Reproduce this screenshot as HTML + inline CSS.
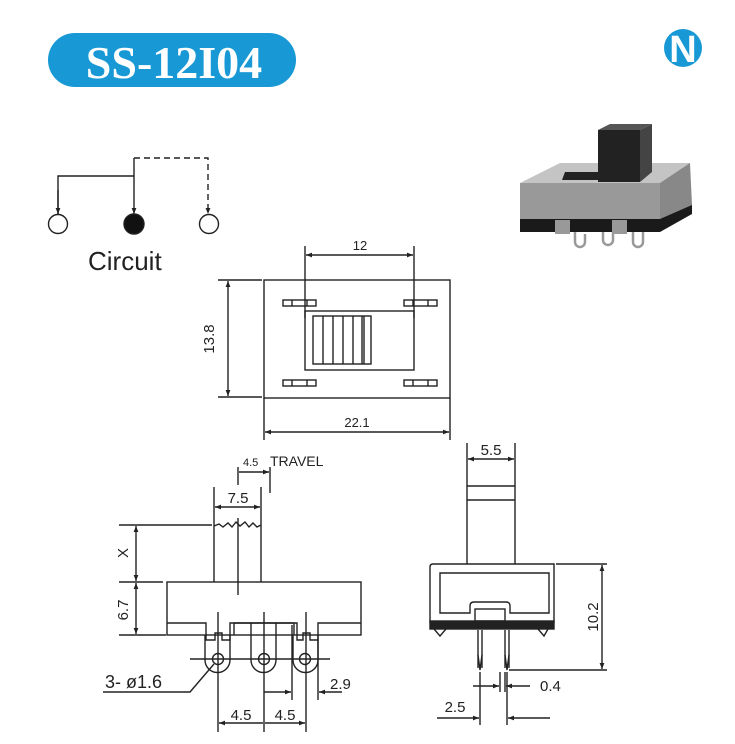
<!DOCTYPE html>
<html><head><meta charset="utf-8"><style>
html,body{margin:0;padding:0;background:#fff;}
svg{display:block;}
text{font-family:"Liberation Sans",sans-serif;fill:#222;}
</style></head><body>
<svg width="735" height="744" viewBox="0 0 735 744" xmlns="http://www.w3.org/2000/svg">
<defs>
<marker id="a" viewBox="0 0 10 10" refX="10" refY="5" markerWidth="8" markerHeight="6" orient="auto-start-reverse" markerUnits="userSpaceOnUse"><path d="M0,1 L10,5 L0,9 z" fill="#222"/></marker>
</defs>
<!-- title -->
<rect x="48" y="33" width="248" height="54" rx="27" fill="#1899d6"/>
<text x="174" y="78" text-anchor="middle" style="font-family:'Liberation Serif',serif;font-weight:bold;font-size:46px;fill:#fff">SS-12I04</text>
<!-- logo -->
<circle cx="683" cy="48" r="19" fill="#1899d6"/>
<text x="683" y="62" text-anchor="middle" style="font-family:'Liberation Sans',sans-serif;font-weight:bold;font-size:38px;fill:#fff">N</text>

<g stroke="#222" stroke-width="1.4" fill="none">
<!-- circuit -->
<polyline points="58,214 58,176 134,176"/>
<line x1="134" y1="158" x2="134" y2="214" marker-end="url(#a)"/>
<line x1="58" y1="190" x2="58" y2="214" marker-end="url(#a)"/>
<polyline points="134,158 208,158 208,214" stroke-dasharray="6,4" marker-end="url(#a)"/>
<circle cx="58" cy="224" r="9.5"/>
<circle cx="134" cy="224" r="10" fill="#111"/>
<circle cx="209" cy="224" r="9.5"/>

<!-- top view -->
<rect x="264" y="280" width="186" height="118"/>
<rect x="305" y="311" width="109" height="59"/>
<rect x="313" y="316" width="58" height="48"/>
<line x1="323" y1="316" x2="323" y2="364"/><line x1="333" y1="316" x2="333" y2="364"/><line x1="343" y1="316" x2="343" y2="364"/><line x1="353" y1="316" x2="353" y2="364"/><line x1="362" y1="316" x2="362" y2="364"/><line x1="364" y1="316" x2="364" y2="364"/>
<rect x="283" y="300" width="33" height="6"/><line x1="292" y1="300" x2="292" y2="306"/><line x1="307" y1="300" x2="307" y2="306"/>
<rect x="404" y="300" width="33" height="6"/><line x1="413" y1="300" x2="413" y2="306"/><line x1="428" y1="300" x2="428" y2="306"/>
<rect x="283" y="380" width="33" height="6"/><line x1="292" y1="380" x2="292" y2="386"/><line x1="307" y1="380" x2="307" y2="386"/>
<rect x="404" y="380" width="33" height="6"/><line x1="413" y1="380" x2="413" y2="386"/><line x1="428" y1="380" x2="428" y2="386"/>
<line x1="305" y1="246" x2="305" y2="318"/><line x1="414" y1="246" x2="414" y2="318"/>
<line x1="306" y1="255" x2="413" y2="255" marker-start="url(#a)" marker-end="url(#a)"/>
<line x1="218" y1="280" x2="262" y2="280"/><line x1="218" y1="397" x2="262" y2="397"/>
<line x1="228" y1="281" x2="228" y2="396" marker-start="url(#a)" marker-end="url(#a)"/>
<line x1="264" y1="398" x2="264" y2="440"/><line x1="450" y1="398" x2="450" y2="440"/>
<line x1="265" y1="432" x2="449" y2="432" marker-start="url(#a)" marker-end="url(#a)"/>

<!-- side view -->
<rect x="167" y="582" width="194" height="53"/>
<polyline points="167,623 206,623 206,640 215,640 215,633 222,633 222,640 230,640 230,623 234,623 234,623 293,623 293,623 234,623"/>
<polyline points="234,635 234,623 294,623 294,635"/>
<polyline points="294,623 297,623 297,640 303,640 303,633 310,633 310,640 318,640 318,623 361,623"/>
<path d="M205,635 V660 a12.5,12.5 0 0 0 25,0 V635"/>
<path d="M251,623 V660 a12.5,12.5 0 0 0 25,0 V623"/>
<path d="M293,635 V660 a12.5,12.5 0 0 0 25,0 V635"/>
<circle cx="218" cy="659" r="5.5"/><circle cx="264" cy="659" r="5.5"/><circle cx="305" cy="659" r="5.5"/>
<line x1="190" y1="659" x2="330" y2="659"/>
<line x1="218" y1="612" x2="218" y2="732"/><line x1="264" y1="612" x2="264" y2="732"/><line x1="306" y1="612" x2="306" y2="732"/>
<line x1="219" y1="723" x2="263" y2="723" marker-start="url(#a)"/>
<line x1="265" y1="723" x2="305" y2="723" marker-end="url(#a)"/>
<line x1="292" y1="625" x2="292" y2="700"/><line x1="318" y1="640" x2="318" y2="700"/>
<line x1="264" y1="692" x2="291" y2="692" marker-end="url(#a)"/>
<line x1="342" y1="692" x2="319" y2="692" marker-end="url(#a)"/>
<polyline points="103,692 190,692 214,664"/>
<!-- actuator -->
<line x1="214" y1="525" x2="214" y2="582"/><line x1="261" y1="525" x2="261" y2="582"/>
<polyline points="214,526 219,524 223,527 228,523 232,527 236,522 240,526 245,522 249,527 253,523 257,527 261,525"/>
<line x1="238" y1="518" x2="238" y2="595"/>
<line x1="214" y1="487" x2="214" y2="525"/><line x1="261" y1="487" x2="261" y2="525"/>
<line x1="215" y1="507" x2="260" y2="507" marker-start="url(#a)" marker-end="url(#a)"/>
<line x1="238" y1="467" x2="238" y2="485"/><line x1="270" y1="467" x2="270" y2="493"/>
<line x1="239" y1="472" x2="269" y2="472" marker-end="url(#a)"/>
<line x1="119" y1="525" x2="212" y2="525"/><line x1="119" y1="582" x2="163" y2="582"/><line x1="119" y1="635" x2="166" y2="635"/>
<line x1="136" y1="526" x2="136" y2="581" marker-start="url(#a)" marker-end="url(#a)"/>
<line x1="136" y1="583" x2="136" y2="634" marker-start="url(#a)" marker-end="url(#a)"/>

<!-- front view -->
<line x1="467" y1="443" x2="467" y2="564"/><line x1="515" y1="443" x2="515" y2="564"/>
<line x1="467" y1="486" x2="515" y2="486"/><line x1="467" y1="500" x2="515" y2="500"/>
<line x1="468" y1="459" x2="514" y2="459" marker-start="url(#a)" marker-end="url(#a)"/>
<path d="M430,567 q0,-3 3,-3 H554 V622 H430 Z"/>
<rect x="430" y="621" width="124" height="8" fill="#222"/>
<path d="M434,629 L440,636 L446,629 M548,629 L544,636 L538,629"/>
<path d="M440,573 H549 V613 H510 V606 q0,-4 -4,-4 H474 q-4,0 -4,4 V613 H440 Z"/>
<rect x="475" y="609" width="30" height="12"/>
<line x1="478" y1="630" x2="478" y2="668"/><line x1="482" y1="630" x2="482" y2="668"/>
<line x1="505" y1="630" x2="505" y2="668"/><line x1="509" y1="630" x2="509" y2="668"/>
<path d="M478,655 L480,670 L482,655 M505,655 L507,670 L509,655"/>
<line x1="556" y1="564" x2="607" y2="564"/><line x1="509" y1="670" x2="607" y2="670"/>
<line x1="602" y1="565" x2="602" y2="669" marker-start="url(#a)" marker-end="url(#a)"/>
<line x1="500" y1="672" x2="500" y2="692"/><line x1="505" y1="672" x2="505" y2="692"/>
<line x1="473" y1="686" x2="499" y2="686" marker-end="url(#a)"/>
<line x1="530" y1="686" x2="506" y2="686" marker-end="url(#a)"/>
<line x1="480" y1="672" x2="480" y2="725"/><line x1="507" y1="672" x2="507" y2="725"/>
<line x1="437" y1="718" x2="479" y2="718" marker-end="url(#a)"/>
<line x1="550" y1="718" x2="508" y2="718" marker-end="url(#a)"/>
</g>

<!-- photo -->
<g>
<polygon points="520,183 560,163 690,163 688,183" fill="#c4c4c4"/>
<polygon points="565,172 600,172 600,180 562,180" fill="#222"/>
<rect x="520" y="183" width="140" height="42" fill="#999"/>
<polygon points="660,183 690,163 692,205 660,225" fill="#888"/>
<polygon points="520,219 660,219 660,232 520,232" fill="#1a1a1a"/>
<polygon points="660,219 692,205 692,214 660,232" fill="#1a1a1a"/>
<rect x="598" y="130" width="42" height="52" fill="#222"/>
<polygon points="640,130 652,124 652,172 640,182" fill="#444"/>
<polygon points="598,130 610,124 652,124 640,130" fill="#555"/>
<rect x="555" y="220" width="15" height="14" fill="#999"/>
<rect x="612" y="220" width="15" height="14" fill="#999"/>
<g fill="none" stroke="#999" stroke-width="2.5">
<path d="M575,232 v10 a5,5 0 0 0 10,0 v-8"/>
<path d="M603,232 v8 a5,5 0 0 0 10,0 v-8"/>
<path d="M633,232 v10 a5,5 0 0 0 10,0 v-10"/>
</g>
</g>

<text x="88" y="270" style="font-size:26px">Circuit</text>
<text x="360" y="250" text-anchor="middle" style="font-size:13px">12</text>
<text x="357" y="427" text-anchor="middle" style="font-size:13px">22.1</text>
<text transform="translate(214,339) rotate(-90)" text-anchor="middle" style="font-size:15px">13.8</text>
<text x="243" y="466" style="font-size:11px">4.5</text>
<text x="270" y="466" style="font-size:14px">TRAVEL</text>
<text x="238" y="503" text-anchor="middle" style="font-size:15px">7.5</text>
<text transform="translate(128,553) rotate(-90)" text-anchor="middle" style="font-size:15px">X</text>
<text transform="translate(128,610) rotate(-90)" text-anchor="middle" style="font-size:15px">6.7</text>
<text x="105" y="688" style="font-size:18px">3- ø1.6</text>
<text x="330" y="689" style="font-size:15px">2.9</text>
<text x="241" y="720" text-anchor="middle" style="font-size:15px">4.5</text>
<text x="285" y="720" text-anchor="middle" style="font-size:15px">4.5</text>
<text x="491" y="455" text-anchor="middle" style="font-size:15px">5.5</text>
<text transform="translate(598,617) rotate(-90)" text-anchor="middle" style="font-size:15px">10.2</text>
<text x="540" y="691" style="font-size:15px">0.4</text>
<text x="455" y="712" text-anchor="middle" style="font-size:15px">2.5</text>
</svg>
</body></html>
